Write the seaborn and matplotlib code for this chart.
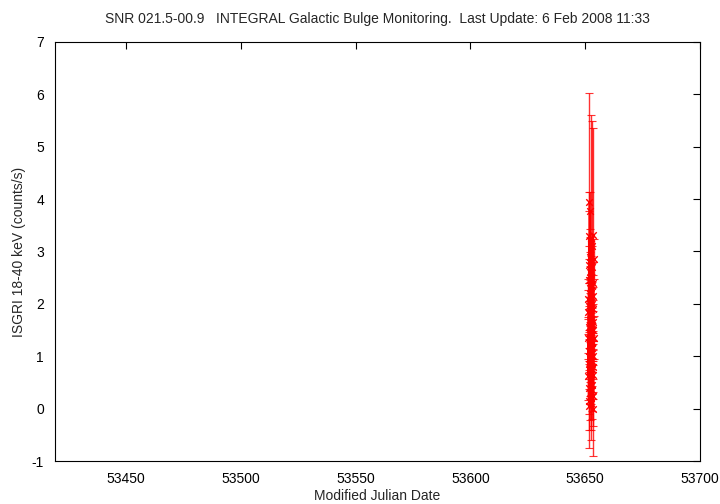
import pandas as pd
import numpy as np
import matplotlib
matplotlib.use("Agg")
import matplotlib.pyplot as plt
import seaborn as sns

# ISGRI light curve points (MJD, rate, error)
mjd = [53651.30, 53651.34, 53651.38, 53651.42, 53651.46, 53651.50, 53651.54, 53651.58,
       53651.62, 53651.66, 53651.70, 53651.74, 53651.78, 53651.82, 53651.86, 53651.90,
       53651.94, 53651.98, 53652.02, 53652.06, 53652.10, 53652.14, 53652.18, 53652.22,
       53652.26, 53652.30, 53652.34, 53652.38, 53652.42, 53652.46, 53652.50, 53652.54,
       53652.58, 53652.62, 53652.66, 53652.70, 53652.74, 53652.78, 53652.82, 53652.86,
       53652.90, 53652.94, 53652.98, 53653.02, 53653.06, 53653.10, 53653.14, 53653.18,
       53653.22, 53653.26, 53653.30, 53653.34, 53653.38, 53653.42, 53653.46, 53653.50,
       53653.54, 53653.58, 53653.62, 53653.66]
rate = [1.35, 0.62, 2.10, 1.85, 0.15, 3.30, 2.45, 1.10, 0.40, 1.95, 2.75, 0.85,
        1.55, 3.95, 0.05, 2.30, 1.20, 0.70, 2.60, 1.45, 3.78, 0.30, 2.05, 1.70,
        0.95, 2.90, 0.20, 1.30, 2.20, 0.55, 3.25, 1.05, 1.80, 0.10, 2.50, 1.40,
        0.75, 2.00, 1.15, 3.10, 0.45, 1.60, 2.35, 0.90, 1.25, 2.70, 0.35, 1.90,
        0.65, 2.15, 1.50, 0.25, 3.32, 1.00, 2.40, 0.80, 1.65, 0.00, 2.85, 1.35]
err = [0.40, 0.45, 0.38, 0.42, 0.55, 2.73, 0.40, 0.36, 0.50, 0.44, 0.35, 0.48,
       0.40, 0.18, 0.80, 0.42, 0.37, 0.46, 0.39, 0.41, 0.35, 0.52, 0.40, 0.43,
       0.45, 0.38, 0.60, 0.40, 0.37, 0.47, 2.35, 0.44, 0.39, 0.70, 0.41, 0.36,
       0.48, 0.42, 0.40, 2.40, 0.50, 0.38, 0.43, 0.46, 0.39, 0.40, 0.55, 0.42,
       0.47, 0.41, 0.37, 0.58, 2.03, 0.44, 0.40, 0.49, 0.42, 0.90, 0.38, 0.41]

df = pd.DataFrame({"mjd": mjd, "rate": rate, "err": err})

sns.set_style("white")
plt.rcParams['font.family'] = ['Liberation Sans', 'DejaVu Sans']
plt.rcParams['axes.unicode_minus'] = False

fig = plt.figure(figsize=(7.2, 5.04), dpi=100)
ax = fig.add_axes([0.0764, 0.0853, 0.8958, 0.8314])

ax.errorbar(df["mjd"], df["rate"], yerr=df["err"], fmt="none", ecolor="red",
            elinewidth=1, capsize=3, capthick=0.8, alpha=0.8)
ax.plot(df["mjd"], df["rate"], color="red", lw=1)
sns.scatterplot(data=df, x="mjd", y="rate", marker="x", color="red", s=22,
                linewidth=1, ax=ax, legend=False)

ax.set_xlim(53419, 53700)
ax.set_ylim(-1, 7)
ax.set_xticks([53450, 53500, 53550, 53600, 53650, 53700])
ax.set_yticks(range(-1, 8))
ax.tick_params(direction="in", top=True, right=True, length=5, width=0.8,
               labelsize=10, colors="black", pad=8)
for s in ax.spines.values():
    s.set_color("black")
    s.set_linewidth(0.8)
    s.set_visible(True)

ax.set_xlabel("Modified Julian Date", fontsize=10, labelpad=2)
ax.set_ylabel("ISGRI 18-40 keV (counts/s)", fontsize=10)
ax.set_title("SNR 021.5-00.9   INTEGRAL Galactic Bulge Monitoring.  Last Update: 6 Feb 2008 11:33",
             fontsize=10, pad=14)

fig.savefig("out.png", dpi=100)
